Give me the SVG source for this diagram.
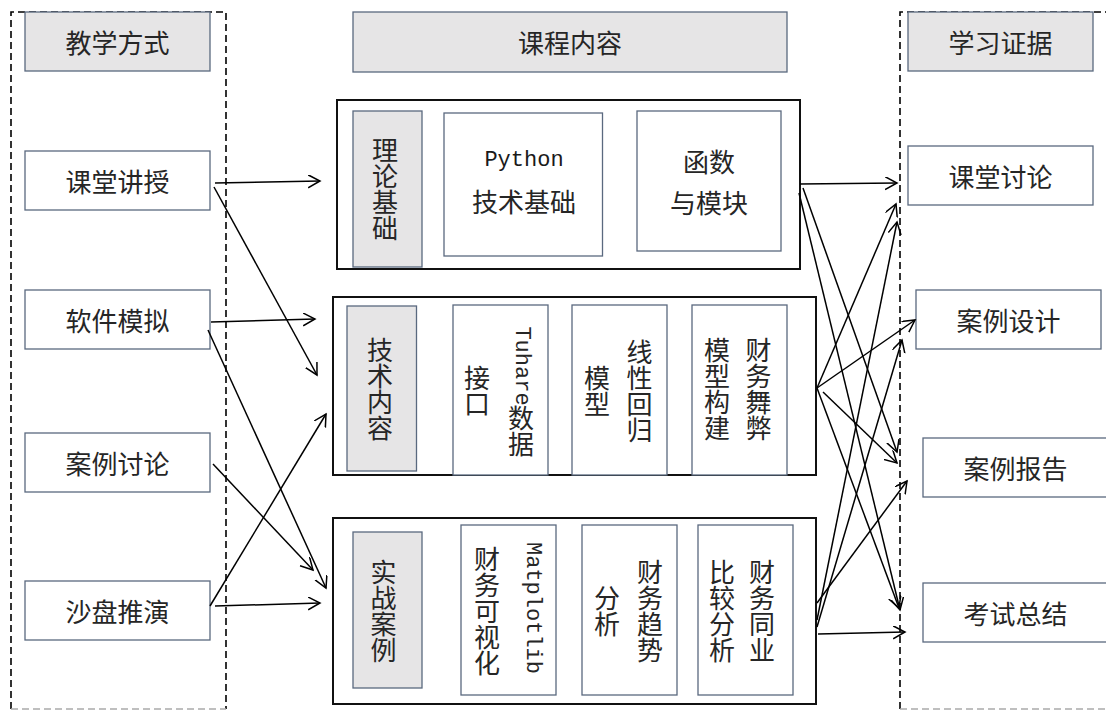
<svg xmlns="http://www.w3.org/2000/svg" width="1106" height="710" viewBox="0 0 1106 710">
<style>
.bg{fill:#ffffff}
.dash{fill:none;stroke:#000;stroke-width:1.6;stroke-dasharray:7 4}
.dashg{fill:none;stroke:#aaa;stroke-width:1.4;stroke-dasharray:7 4}
.hdr{fill:#e6e5e6;stroke:#5a697f;stroke-width:1.3}
.box{fill:#ffffff;stroke:#5a697f;stroke-width:1.3}
.outer{fill:#ffffff;stroke:#111;stroke-width:2}
.t{font-family:"Noto Sans CJK SC","Noto Sans CJK TC",sans-serif;font-size:26px;fill:#262626;text-anchor:middle;dominant-baseline:central}
.v{writing-mode:vertical-rl}
.m{font-family:"Liberation Mono","DejaVu Sans Mono",monospace;font-size:22px}
.c{fill:none;stroke:#000;stroke-width:1.5}
</style>
<defs>
<marker id="ah" markerUnits="userSpaceOnUse" markerWidth="14" markerHeight="14" refX="12" refY="6.5" orient="auto">
<path d="M0,0 L12,6.5 L0,13" fill="none" stroke="#000" stroke-width="1.5"/>
</marker>
</defs>
<rect class="bg" x="0" y="0" width="1106" height="710"/>

<g id="col-left">
<path class="dash" d="M11,709 L11,12 L226,12 L226,709"/>
<path class="dashg" d="M11,709 L226,709"/>
</g>
<g id="col-right">
<path class="dash" d="M900,709 L900,12 L1106,12"/>
<path class="dashg" d="M900,709 L1106,709"/>
</g>

<g id="h-teach"><rect class="hdr" x="25" y="12" width="185" height="59"/><text class="t" x="117.5" y="41.5">教学方式</text></g>
<g id="h-course"><rect class="hdr" x="353" y="12" width="434" height="60"/><text class="t" x="570" y="41.5">课程内容</text></g>
<g id="h-evidence"><rect class="hdr" x="908" y="12" width="185" height="59"/><text class="t" x="1000.5" y="41.5">学习证据</text></g>

<g id="m-lecture"><rect class="box" x="25" y="151" width="185" height="59"/><text class="t" x="117.5" y="180.5">课堂讲授</text></g>
<g id="m-software"><rect class="box" x="25" y="290" width="185" height="59"/><text class="t" x="117.5" y="319.5">软件模拟</text></g>
<g id="m-case"><rect class="box" x="25" y="433" width="185" height="59"/><text class="t" x="117.5" y="462.5">案例讨论</text></g>
<g id="m-sandbox"><rect class="box" x="25" y="581" width="185" height="59"/><text class="t" x="117.5" y="610.5">沙盘推演</text></g>

<g id="c-theory">
<rect class="outer" x="337" y="100" width="463" height="169"/>
<rect class="hdr" x="353" y="111" width="69" height="156"/>
<text class="t v" x="385" y="189">理论基础</text>
<rect class="box" x="444" y="113" width="158.5" height="143"/>
<text class="m" x="524" y="166" text-anchor="middle" fill="#1a1a1a">Python</text>
<text class="t" x="524" y="200">技术基础</text>
<rect class="box" x="637" y="111" width="144" height="140"/>
<text class="t" x="709" y="160">函数</text>
<text class="t" x="709" y="201">与模块</text>
</g>

<g id="c-tech">
<rect class="outer" x="333" y="297" width="483" height="178"/>
<rect class="hdr" x="347" y="306" width="69.5" height="165"/>
<text class="t v" x="380" y="389">技术内容</text>
<rect class="box" x="453" y="305" width="95" height="170"/>
<text class="t v" x="521" y="392"><tspan class="m">Tuhare</tspan>数据</text>
<text class="t v" x="477" y="391">接口</text>
<rect class="box" x="572" y="305" width="95" height="170"/>
<text class="t v" x="639.5" y="391">线性回归</text>
<text class="t v" x="597" y="391">模型</text>
<rect class="box" x="692" y="305" width="95" height="170"/>
<text class="t v" x="758.5" y="389">财务舞弊</text>
<text class="t v" x="717" y="389">模型构建</text>
</g>

<g id="c-practice">
<rect class="outer" x="333" y="518" width="483" height="186"/>
<rect class="hdr" x="353" y="532" width="69" height="156"/>
<text class="t v" x="383.5" y="611">实战案例</text>
<rect class="box" x="461" y="525" width="95" height="170"/>
<text class="t v" x="532" y="608"><tspan class="m">Matplotlib</tspan></text>
<text class="t v" x="487" y="611">财务可视化</text>
<rect class="box" x="582" y="525" width="95" height="170"/>
<text class="t v" x="650" y="611">财务趋势</text>
<text class="t v" x="607" y="611">分析</text>
<rect class="box" x="698" y="525" width="95" height="170"/>
<text class="t v" x="762" y="611">财务同业</text>
<text class="t v" x="722" y="611">比较分析</text>
</g>

<g id="e-discussion"><rect class="box" x="908" y="146" width="185" height="59"/><text class="t" x="1000.5" y="175.5">课堂讨论</text></g>
<g id="e-design"><rect class="box" x="916" y="290" width="185" height="59"/><text class="t" x="1008.5" y="319.5">案例设计</text></g>
<g id="e-report"><rect class="box" x="923" y="438" width="185" height="59"/><text class="t" x="1015.5" y="467.5">案例报告</text></g>
<g id="e-exam"><rect class="box" x="923" y="583" width="185" height="59"/><text class="t" x="1015.5" y="612.5">考试总结</text></g>

<g id="connectors">
<line class="c" x1="215" y1="183" x2="320" y2="181" marker-end="url(#ah)"/>
<line class="c" x1="214" y1="187" x2="317" y2="375" marker-end="url(#ah)"/>
<line class="c" x1="211" y1="322" x2="315" y2="319" marker-end="url(#ah)"/>
<line class="c" x1="208" y1="330" x2="326" y2="588" marker-end="url(#ah)"/>
<line class="c" x1="213" y1="464" x2="313" y2="570" marker-end="url(#ah)"/>
<line class="c" x1="210" y1="606" x2="326" y2="414" marker-end="url(#ah)"/>
<line class="c" x1="215" y1="606" x2="320" y2="603" marker-end="url(#ah)"/>

<line class="c" x1="800" y1="184" x2="897" y2="183" marker-end="url(#ah)"/>
<line class="c" x1="803" y1="188" x2="897" y2="452" marker-end="url(#ah)"/>
<line class="c" x1="799" y1="193" x2="900" y2="610" marker-end="url(#ah)"/>
<line class="c" x1="817" y1="388" x2="896" y2="204" marker-end="url(#ah)"/>
<line class="c" x1="817" y1="388" x2="915" y2="320" marker-end="url(#ah)"/>
<line class="c" x1="823" y1="392" x2="897" y2="463" marker-end="url(#ah)"/>
<line class="c" x1="817" y1="388" x2="899" y2="608" marker-end="url(#ah)"/>
<line class="c" x1="817" y1="620" x2="897" y2="222" marker-end="url(#ah)"/>
<line class="c" x1="817" y1="627" x2="902" y2="340" marker-end="url(#ah)"/>
<line class="c" x1="817" y1="603" x2="907" y2="481" marker-end="url(#ah)"/>
<line class="c" x1="818" y1="634" x2="905" y2="632" marker-end="url(#ah)"/>
</g>
</svg>
